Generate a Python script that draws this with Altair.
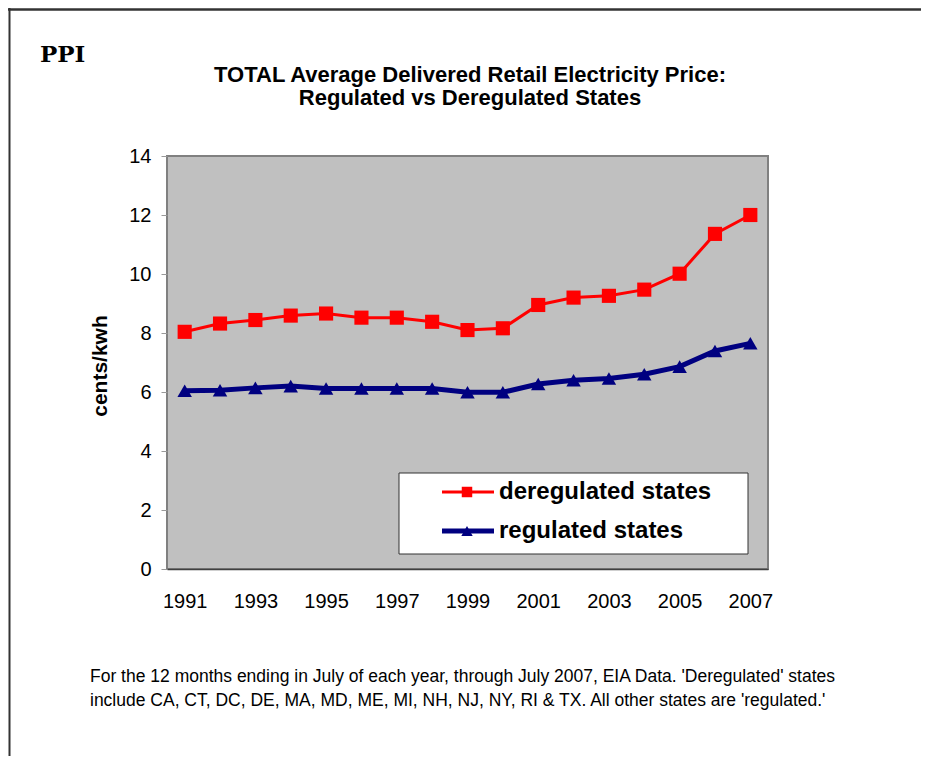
import altair as alt
import pandas as pd

years = [str(y) for y in range(1991, 2008)]
deregulated = [8.04, 8.32, 8.44, 8.59, 8.66, 8.52, 8.52, 8.38, 8.10, 8.16, 8.95, 9.20, 9.26, 9.47, 10.01, 11.36, 12.00]
regulated = [6.04, 6.06, 6.14, 6.20, 6.12, 6.12, 6.12, 6.12, 5.99, 5.99, 6.27, 6.40, 6.46, 6.60, 6.86, 7.39, 7.65]
series_names = ["deregulated states", "regulated states"]
series_colors = ["#FF0000", "#000080"]
series_shapes = ["square", "triangle-up"]
x_tick_labels = [str(y) for y in range(1991, 2008, 2)]
y_ticks = [0, 2, 4, 6, 8, 10, 12, 14]

title_lines = ["TOTAL Average Delivered Retail Electricity Price:", "Regulated vs Deregulated States"]
note_lines = [
    "For the 12 months ending in July of each year, through July 2007, EIA Data.  'Deregulated' states",
    "include CA, CT, DC, DE, MA, MD, ME, MI, NH, NJ, NY, RI & TX.  All other states are 'regulated.'",
]

df = pd.DataFrame({
    "year": years * 2,
    "value": deregulated + regulated,
    "series": [series_names[0]] * len(years) + [series_names[1]] * len(years),
})

W, H = 601, 413
FONT = "Liberation Sans"

x_enc = alt.X("year:O", scale=alt.Scale(type="point", padding=0.5),
              axis=alt.Axis(values=x_tick_labels, labelAngle=0, title=None, ticks=False,
                            labelFontSize=20, labelFont=FONT, labelColor="#000",
                            labelPadding=22, domainColor="#404040", domainWidth=1.5))
y_enc = alt.Y("value:Q", scale=alt.Scale(domain=[0, 14], nice=False),
              axis=alt.Axis(values=y_ticks, title=None, grid=False, tickSize=6, tickColor="#999",
                            labelFontSize=20, labelFont=FONT, labelColor="#000", labelPadding=10,
                            domain=False))

layers = []
for name, color, shape, width in zip(series_names, series_colors, series_shapes, [3, 5]):
    sub = alt.Chart(df).transform_filter(alt.datum.series == name)
    layers.append(sub.mark_line(color=color, strokeWidth=width).encode(x=x_enc, y=y_enc))
    layers.append(sub.mark_point(color=color, filled=True, opacity=1, shape=shape,
                                 size=200 if shape == "square" else 210).encode(x=x_enc, y=y_enc))

base = alt.Chart(pd.DataFrame({"a": [0]}))

# outer frame (top and left edges)
layers.append(base.mark_rule(color="#333", strokeWidth=2.5).encode(
    x=alt.value(-159), x2=alt.value(780), y=alt.value(-146.5)))
layers.append(base.mark_rule(color="#333", strokeWidth=2).encode(
    x=alt.value(-157.5), y=alt.value(-148), y2=alt.value(640)))

# legend box
layers.append(base.mark_rect(fill="white", stroke="#333", strokeWidth=1).encode(
    x=alt.value(232), x2=alt.value(581), y=alt.value(317), y2=alt.value(398)))
for i, (name, color, shape, width) in enumerate(zip(series_names, series_colors, series_shapes, [3, 5])):
    yy = 336 + i * 39
    layers.append(base.mark_rule(color=color, strokeWidth=width).encode(
        x=alt.value(275), x2=alt.value(327), y=alt.value(yy)))
    layers.append(base.mark_point(color=color, filled=True, opacity=1, shape=shape,
                                  size=110 if shape == "square" else 130).encode(
        x=alt.value(300), y=alt.value(yy)))
    layers.append(base.mark_text(text=name, font=FONT, fontSize=24, fontWeight="bold",
                                 align="left", baseline="middle", color="#000").encode(
        x=alt.value(332), y=alt.value(yy)))

# titles and notes
for i, line in enumerate(title_lines):
    layers.append(base.mark_text(text=line, font=FONT, fontSize=22, fontWeight="bold",
                                 align="center", baseline="middle", color="#000").encode(
        x=alt.value(303), y=alt.value(-81 + i * 23)))
layers.append(base.mark_text(text="PPI", font="DejaVu Serif", fontSize=23, fontWeight="bold",
                             align="left", baseline="middle", color="#000").encode(
    x=alt.value(-127), y=alt.value(-101)))
layers.append(base.mark_text(text="cents/kwh", font=FONT, fontSize=21, fontWeight="bold",
                             angle=270, align="center", baseline="middle", color="#000").encode(
    x=alt.value(-66), y=alt.value(210)))
for i, line in enumerate(note_lines):
    layers.append(base.mark_text(text=line, font=FONT, fontSize=17.5,
                                 align="left", baseline="middle", color="#000").encode(
        x=alt.value(-77), y=alt.value(521 + i * 24)))

chart = alt.layer(*layers).properties(
    width=W, height=H,
    autosize=alt.AutoSizeParams(type="none"),
    padding={"left": 159, "top": 148, "right": 153, "bottom": 187},
    background="white",
).configure_view(fill="#C0C0C0", stroke="#808080", strokeWidth=2)

chart.save("out.html", embed_options={"renderer": "svg", "actions": False})
